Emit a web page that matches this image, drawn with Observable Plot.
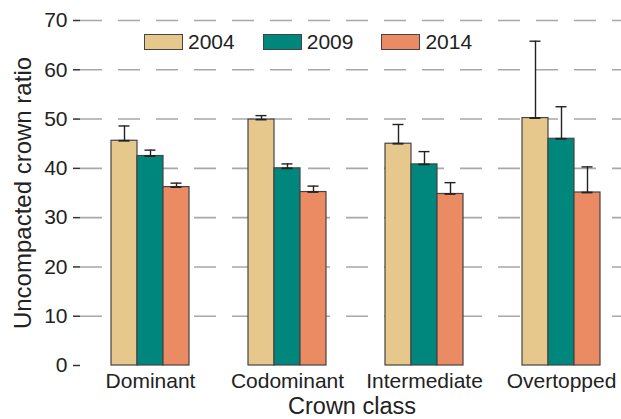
<!DOCTYPE html>
<html>
<head>
<meta charset="utf-8">
<script src="https://cdn.jsdelivr.net/npm/d3@7"></script>
<script src="https://cdn.jsdelivr.net/npm/@observablehq/plot@0.6"></script>
<style>
  html, body { margin: 0; padding: 0; background: #fff; overflow: hidden; }
  #chart { position: relative; width: 621px; height: 419px; font-family: "Liberation Sans", Arial, sans-serif; color: #222; }
  #chart svg { position: absolute; left: 0; top: 0; overflow: hidden; }
  .legend { position: absolute; left: 144px; top: 34px; display: flex; gap: 28px; align-items: center; font-size: 21px; line-height: 16px; }
  .legend .item { display: flex; align-items: center; gap: 5px; }
  .legend .sw { width: 37px; height: 14px; border: 1px solid #444; }
</style>
</head>
<body>
<div id="chart"></div>
<script>
// Crown classes along the x axis, one bar per survey year
const categories = ["Dominant", "Codominant", "Intermediate", "Overtopped"];
const years = ["2004", "2009", "2014"];

// Mean uncompacted crown ratio per class
const ratio2004 = [45.6, 49.9, 45.0, 50.2];
const ratio2009 = [42.5, 40.0, 40.8, 46.0];
const ratio2014 = [36.2, 35.2, 34.8, 35.1];

// Upper error (standard error) per class
const err2004 = [3.0, 0.8, 3.9, 15.6];
const err2009 = [1.2, 0.9, 2.6, 6.5];
const err2014 = [0.8, 1.2, 2.3, 5.2];

const yTicks = [0, 10, 20, 30, 40, 50, 60, 70];
const colors = ["#e6c88c", "#00877d", "#ea8b64"];

const values = [ratio2004, ratio2009, ratio2014];
const errors = [err2004, err2009, err2014];
const rows = years.flatMap((year, k) =>
  categories.map((category, i) => ({category, year, k, value: values[k][i], err: errors[k][i]}))
);

const barW = 26;   // width of one bar within a class group
const capW = 11;   // width of an error-bar cap

const yearMarks = years.map((year, k) =>
  Plot.barY(rows.filter(d => d.k === k), {
    x: "category", y: "value", fill: colors[k],
    stroke: "#444", strokeWidth: 1.2,
    insetLeft: k * barW, insetRight: (2 - k) * barW
  })
);

const errorMarks = years.flatMap((year, k) => {
  const data = rows.filter(d => d.k === k);
  const capLeft = k * barW + (barW - capW) / 2;
  const capRight = 3 * barW - capLeft - capW;
  return [
    Plot.ruleX(data, {x: "category", y1: "value", y2: d => d.value + d.err, dx: (k - 1) * barW, stroke: "#222", strokeWidth: 1.4}),
    Plot.tickY(data, {x: "category", y: d => d.value + d.err, insetLeft: capLeft, insetRight: capRight, stroke: "#222", strokeWidth: 1.4}),
    Plot.tickY(data, {x: "category", y: "value", insetLeft: capLeft, insetRight: capRight, stroke: "#222", strokeWidth: 1.8})
  ];
});

const plot = Plot.plot({
  width: 621,
  height: 419,
  marginLeft: 80,
  marginTop: 20,
  marginBottom: 54,
  marginRight: 0,
  style: {fontFamily: "Liberation Sans, Arial, sans-serif", fontSize: "21px", color: "#222", background: "transparent"},
  x: {domain: categories, range: [80, 630], paddingInner: 0.433, paddingOuter: 0.218},
  y: {domain: [0, 70], range: [365, 20]},
  marks: [
    Plot.gridY(yTicks.filter(t => t > 0), {stroke: "#a8a8a8", strokeOpacity: 1, strokeWidth: 1.6, strokeDasharray: "22,16"}),
    ...yearMarks,
    ...errorMarks,
    Plot.axisY({ticks: yTicks, tickSize: 7, tickPadding: 6, label: null, line: true, stroke: "#333", strokeWidth: 1.5, fontSize: 21, fill: "#222"}),
    Plot.axisX({tickSize: 0, tickPadding: 8, label: null, line: true, stroke: "#333", strokeWidth: 1.5, fontSize: 21, fill: "#222"}),
    Plot.text(["Uncompacted crown ratio"], {frameAnchor: "left", textAnchor: "middle", rotate: -90, dx: -57, fontSize: 24, fill: "#222"}),
    Plot.text(["Crown class"], {frameAnchor: "bottom", textAnchor: "middle", lineAnchor: "bottom", dy: 48, dx: 1, fontSize: 23.5, fill: "#222"})
  ]
});

const chart = document.getElementById("chart");
chart.appendChild(plot);

// Legend drawn inside the plot area, top left
const legend = document.createElement("div");
legend.className = "legend";
years.forEach((year, k) => {
  const item = document.createElement("div");
  item.className = "item";
  const sw = document.createElement("span");
  sw.className = "sw";
  sw.style.background = colors[k];
  const label = document.createElement("span");
  label.textContent = year;
  item.append(sw, label);
  legend.appendChild(item);
});
chart.appendChild(legend);
</script>
</body>
</html>
